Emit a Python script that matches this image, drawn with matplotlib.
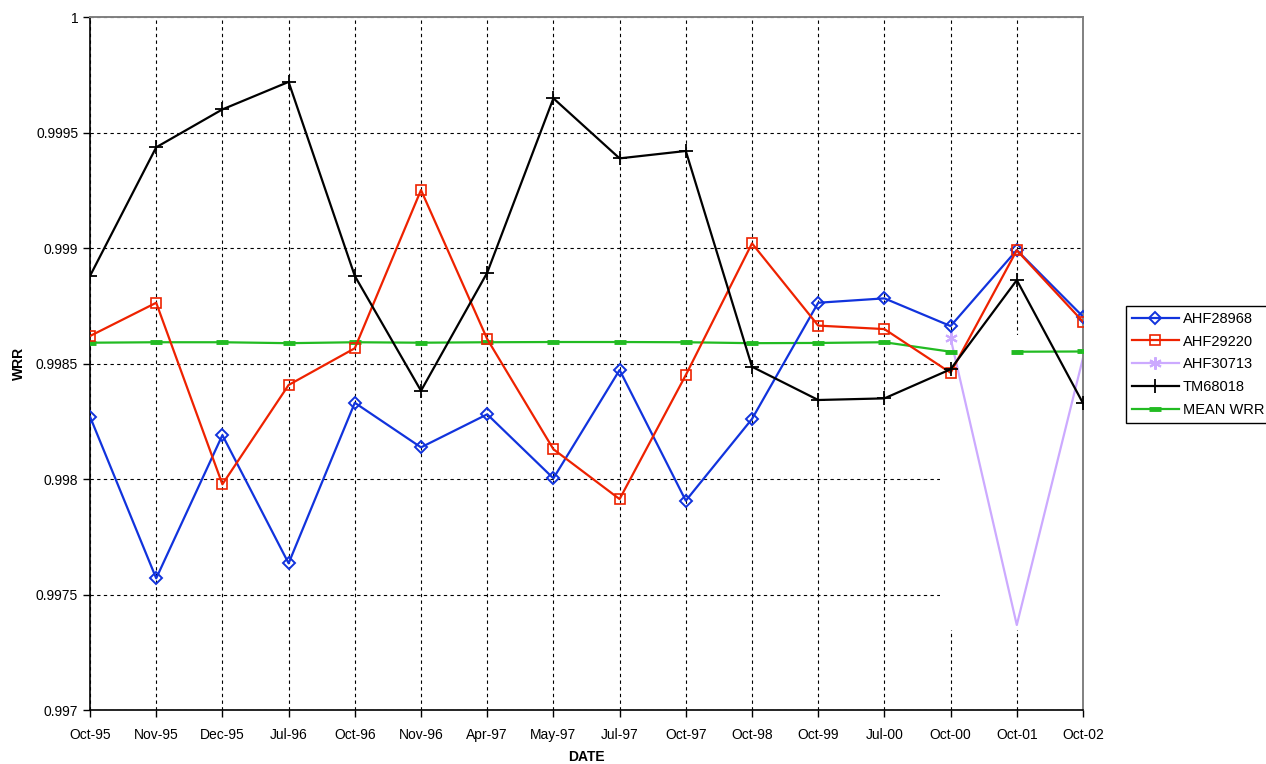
import numpy as np
import matplotlib
matplotlib.use("Agg")
import matplotlib.pyplot as plt
from matplotlib.patches import Rectangle
from matplotlib.ticker import FuncFormatter

plt.rcParams['font.family'] = ['Liberation Sans', 'DejaVu Sans']

dates = ['Oct-95', 'Nov-95', 'Dec-95', 'Jul-96', 'Oct-96', 'Nov-96', 'Apr-97', 'May-97',
         'Jul-97', 'Oct-97', 'Oct-98', 'Oct-99', 'Jul-00', 'Oct-00', 'Oct-01', 'Oct-02']

ahf28968 = [0.998270, 0.997570, 0.998190, 0.997635, 0.998330, 0.998137, 0.998280, 0.998003,
            0.998472, 0.997906, 0.998260, 0.998763, 0.998782, 0.998662, 0.998991, 0.998703]
ahf29220 = [0.998619, 0.998763, 0.997977, 0.998407, 0.998566, 0.999251, 0.998606, 0.998129,
            0.997913, 0.998450, 0.999020, 0.998664, 0.998649, 0.998460, 0.998990, 0.998681]
ahf30713 = [np.nan] * 13 + [0.998609, 0.997368, 0.998524]
tm68018 = [0.998879, 0.999436, 0.999600, 0.999719, 0.998879, 0.998382, 0.998893, 0.999648,
           0.999388, 0.999420, 0.998486, 0.998342, 0.998349, 0.998475, 0.998861, 0.998328]
mean_wrr = [0.998590, 0.998592, 0.998592, 0.998588, 0.998592, 0.998590, 0.998592, 0.998593,
            0.998593, 0.998592, 0.998588, 0.998589, 0.998592, 0.998551, 0.998551, 0.998552]

x = np.arange(len(dates))

fig = plt.figure(figsize=(12.66, 7.64), dpi=100)
ax = fig.add_axes([90/1266, 54/764, 993/1266, 693/764])

# grid
ax.set_axisbelow(True)
ax.grid(True, color='black', linestyle=(0, (3, 3)), linewidth=0.8)

# blank patch over the lower right part of the grid
ax.add_patch(Rectangle((0.856, 0.115), 0.144, 0.426, transform=ax.transAxes,
                       facecolor='white', edgecolor='none', zorder=1))

lw = 1.6
ax.plot(x, ahf28968, color='#1133DD', lw=lw, marker='D', ms=6.5, mfc='none', mew=1.4,
        label='AHF28968', zorder=3)
ax.plot(x, ahf29220, color='#EE2200', lw=lw, marker='s', ms=7, mfc='none', mew=1.2,
        label='AHF29220', zorder=3)
ax.plot(x, ahf30713, color='#CCAAFF', lw=lw, marker=(6, 2, 0), ms=9, mew=1.5, markevery=[13],
        label='AHF30713', zorder=2.5)
ax.plot(x, tm68018, color='black', lw=lw, marker='+', ms=10, mew=1.3,
        label='TM68018', zorder=3)
ax.plot(x[:14], mean_wrr[:14], color='#22BB22', lw=lw, marker='_', ms=9, mew=3.5,
        label='MEAN WRR', zorder=2.8)
ax.plot(x[14:], mean_wrr[14:], color='#22BB22', lw=lw, marker='_', ms=9, mew=3.5, zorder=2.8)

ax.set_xlim(0, len(dates) - 1)
ax.set_ylim(0.997, 1.0)
ax.set_xticks(x)
ax.set_xticklabels(dates)
ax.set_yticks(np.arange(0.997, 1.00001, 0.0005))
ax.yaxis.set_major_formatter(FuncFormatter(lambda v, p: '%g' % round(v, 4)))
ax.tick_params(axis='both', labelsize=10, direction='out', length=5, width=1, color='black')
ax.tick_params(axis='x', pad=8)

for side in ['left', 'bottom']:
    ax.spines[side].set_color('black')
    ax.spines[side].set_linewidth(1.2)
for side in ['top', 'right']:
    ax.spines[side].set_color('#808080')
    ax.spines[side].set_linewidth(1.4)

ax.set_xlabel('DATE', fontsize=10, fontweight='bold', labelpad=6)
ax.set_ylabel('WRR', fontsize=10, fontweight='bold', labelpad=7)

leg = ax.legend(loc='upper left', bbox_to_anchor=(1126/1266, 1 - 306/764),
                bbox_transform=fig.transFigure, borderaxespad=0, fancybox=False,
                edgecolor='black', fontsize=10.5, handlelength=3.2, labelspacing=0.6,
                borderpad=0.4, handletextpad=0.3, framealpha=1)
leg.get_frame().set_linewidth(1.0)

fig.savefig('out.png', dpi=100)
